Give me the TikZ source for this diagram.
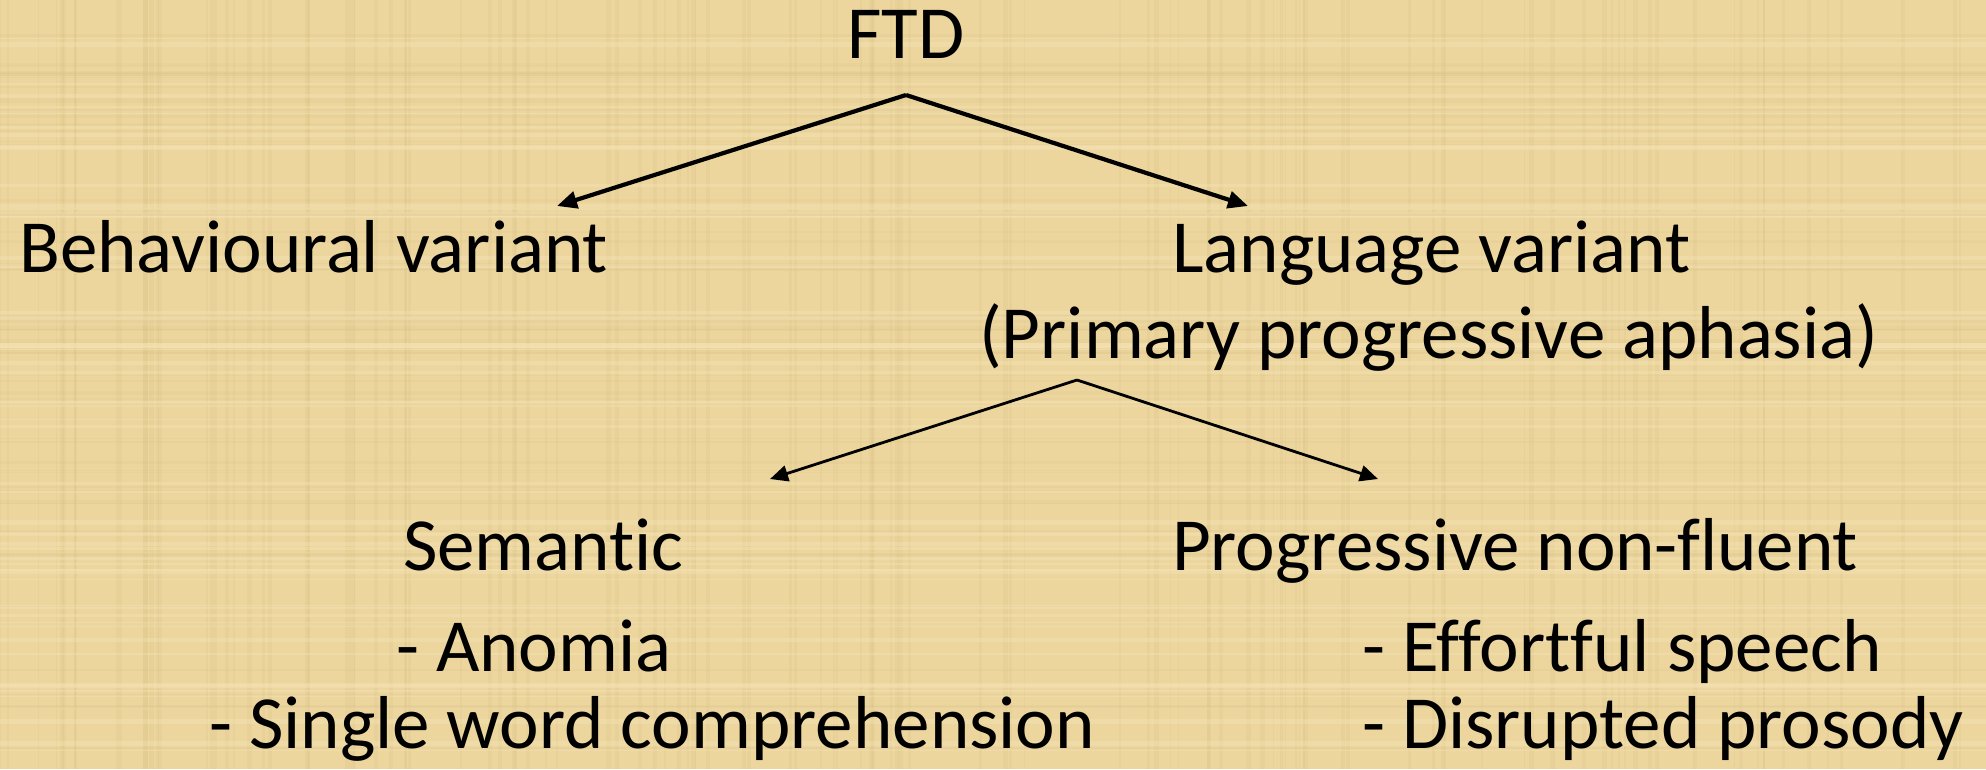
\documentclass[tikz,border=0pt]{standalone}
\usepackage{fontspec}
\setmainfont{Carlito}[Ligatures=NoCommon]
\usetikzlibrary{arrows.meta}
\definecolor{papyrus}{RGB}{236,214,158}
\definecolor{papdark}{RGB}{214,188,128}
\definecolor{paplight}{RGB}{246,230,184}
\tikzset{
  lbl/.style={anchor=base west, inner sep=0pt, font=\fontsize{75}{90}\selectfont},
  bigarrow/.style={line width=4.2pt, -{Triangle[length=20pt,width=17pt]}},
  smallarrow/.style={line width=2.8pt, -{Triangle[length=18pt,width=16pt]}}
}
\begin{document}
\begin{tikzpicture}[x=1pt,y=-1pt]
\fill[papyrus] (0,0) rectangle (1986,769);
\useasboundingbox (0,0) rectangle (1986,769);
\pgfmathsetseed{7}
\foreach \i in {1,...,120}{
  \pgfmathsetmacro{\xx}{rnd*1986}
  \pgfmathsetmacro{\ww}{1+rnd*4}
  \draw[papdark, opacity=0.18, line width=\ww pt] (\xx,0) -- (\xx,769);
}
\foreach \i in {1,...,60}{
  \pgfmathsetmacro{\yy}{rnd*769}
  \pgfmathsetmacro{\ww}{1+rnd*4}
  \draw[paplight, opacity=0.35, line width=\ww pt] (0,\yy) -- (1986,\yy);
}
\foreach \i in {1,...,60}{
  \pgfmathsetmacro{\yy}{rnd*769}
  \pgfmathsetmacro{\ww}{1+rnd*3}
  \draw[papdark, opacity=0.15, line width=\ww pt] (0,\yy) -- (1986,\yy);
}

\node[lbl, anchor=base] (ftd) at (906,58) {FTD};
\node[lbl] (bv) at (19,272) {Behavioural variant};
\node[lbl] (lv) at (1172,272) {Language variant};
\node[lbl] (ppa) at (979,358) {(Primary progressive aphasia)};
\node[lbl] (sem) at (403,570) {Semantic};
\node[lbl] (pnf) at (1172,570) {Progressive non-fluent};
\node[lbl] (an) at (396,671) {- Anomia};
\node[lbl] (swc) at (209,748) {- Single word comprehension};
\node[lbl] (es) at (1362,671) {- Effortful speech};
\node[lbl] (dp) at (1362,748) {- Disrupted prosody};

\coordinate (a1) at (906,95);
\coordinate (t1l) at (557,206);
\coordinate (t1r) at (1248,206);
\coordinate (a2) at (1077,380);
\coordinate (t2l) at (770,479);
\coordinate (t2r) at (1378,479);

\draw[bigarrow] (a1) -- (t1l);
\draw[bigarrow] (a1) -- (t1r);
\draw[smallarrow] (a2) -- (t2l);
\draw[smallarrow] (a2) -- (t2r);
\end{tikzpicture}
\end{document}
